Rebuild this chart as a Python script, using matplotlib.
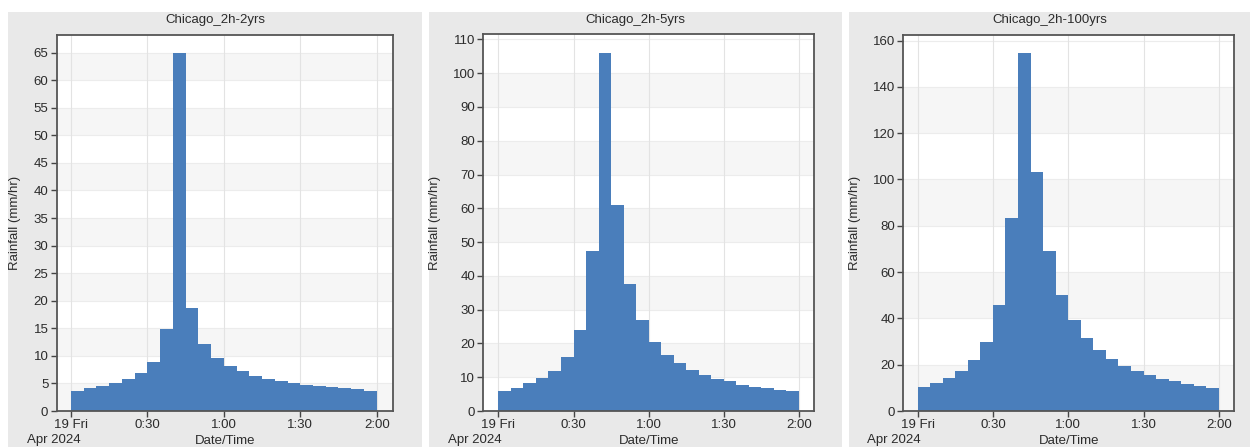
import matplotlib.pyplot as plt
from matplotlib.patches import Rectangle
import numpy as np

plt.rcParams['font.family'] = ['Liberation Sans', 'DejaVu Sans']

# 5-minute rainfall intensities, Chicago design storm, 2 h duration
bar_start = [0, 5, 10, 15, 20, 25, 30, 35, 40, 45, 50, 55,
             60, 65, 70, 75, 80, 85, 90, 95, 100, 105, 110, 115]
rain_2yr = [3.7, 4.1, 4.5, 5.0, 5.8, 6.9, 8.9, 14.9, 65.0, 18.6, 12.2, 9.7,
            8.2, 7.2, 6.4, 5.8, 5.4, 5.0, 4.7, 4.5, 4.3, 4.1, 3.9, 3.7]
rain_5yr = [6.0, 6.8, 8.2, 9.7, 11.9, 16.0, 24.0, 47.3, 105.9, 61.1, 37.6, 26.8,
            20.5, 16.6, 14.1, 12.2, 10.6, 9.4, 8.9, 7.8, 7.2, 6.8, 6.3, 6.0]
rain_100yr = [10.5, 12.0, 14.3, 17.4, 22.0, 30.0, 45.8, 83.4, 154.8, 103.3, 69.0, 50.3,
              39.2, 31.7, 26.4, 22.6, 19.6, 17.4, 15.6, 13.8, 12.9, 11.5, 10.9, 10.1]
titles = ['Chicago_2h-2yrs', 'Chicago_2h-5yrs', 'Chicago_2h-100yrs']
xtick_pos = [0, 30, 60, 90, 120]
xtick_lab = ['19 Fri', '0:30', '1:00', '1:30', '2:00']

W, H = 1250, 447
fig = plt.figure(figsize=(W / 100, H / 100), dpi=100, facecolor='white')

def px_rect(l, t, r, b):
    return [l / W, 1 - b / H, (r - l) / W, (b - t) / H]

panels = [
    dict(box=(8, 12, 422, 447), ax=(56.7, 35, 393, 411), xlim=(-5.6, 126.4), ytop=68.2, step=5,
         band=0, ylx=15, aprx=27, vals=rain_2yr),
    dict(box=(429, 12, 842, 447), ax=(483.3, 34, 814.3, 411), xlim=(-6.0, 126.1), ytop=111.6, step=10,
         band=1, ylx=435, aprx=448, vals=rain_5yr),
    dict(box=(849, 12, 1260, 447), ax=(903.3, 35, 1234, 411), xlim=(-5.7, 126.0), ytop=162.4, step=20,
         band=0, ylx=855, aprx=867, vals=rain_100yr),
]

for i, p in enumerate(panels):
    l, t, r, b = p['box']
    fig.patches.append(Rectangle((l / W, 1 - b / H), (r - l) / W, (b - t) / H,
                                 transform=fig.transFigure, facecolor='#e9e9e9',
                                 edgecolor='none', zorder=-5))
    ax = fig.add_axes(px_rect(*p['ax']))
    ax.set_zorder(1)
    ax.set_facecolor('white')
    step = p['step']
    yticks = np.arange(0, p['ytop'], step)
    # alternating light bands between gridlines
    for k, y0 in enumerate(yticks[:-1]):
        if k % 2 == p['band']:
            ax.axhspan(y0, y0 + step, color='#f6f6f6', zorder=0, lw=0)
    for y in yticks:
        ax.axhline(y, color='#ececec', lw=0.8, zorder=0.5)
    for x in xtick_pos:
        ax.axvline(x, color='#e3e3e3', lw=0.8, zorder=0.5)

    ax.bar(bar_start, p['vals'], width=5, align='edge', color='#4a7ebb', lw=0, zorder=2)

    ax.set_xlim(*p['xlim'])
    ax.set_ylim(0, p['ytop'])
    ax.set_yticks(yticks)
    ax.set_xticks(xtick_pos)
    ax.set_xticklabels(xtick_lab)
    ax.tick_params(direction='out', length=4, width=1, color='#444444',
                   labelsize=9.5, labelcolor='#2b2b2b', pad=2)
    for s in ax.spines.values():
        s.set_color('#555555')
        s.set_linewidth(1.3)

    cx = (l + min(r, W)) / 2
    fig.text(cx / W, 1 - 20 / H, titles[i], ha='center', va='center',
             fontsize=9.5, color='#2b2b2b')
    fig.text(p['ylx'] / W, 1 - (p['ax'][1] + p['ax'][3]) / 2 / H, 'Rainfall (mm/hr)',
             rotation=90, ha='center', va='center', fontsize=9.5, color='#2b2b2b')
    fig.text(p['aprx'] / W, 0.5 / H, 'Apr 2024', ha='left', va='bottom',
             fontsize=9.5, color='#2b2b2b')
    fig.text((p['ax'][0] + p['ax'][2]) / 2 / W, 0.5 / H, 'Date/Time', ha='center', va='bottom',
             fontsize=9.5, color='#2b2b2b')

fig.savefig('out.png', dpi=100)
